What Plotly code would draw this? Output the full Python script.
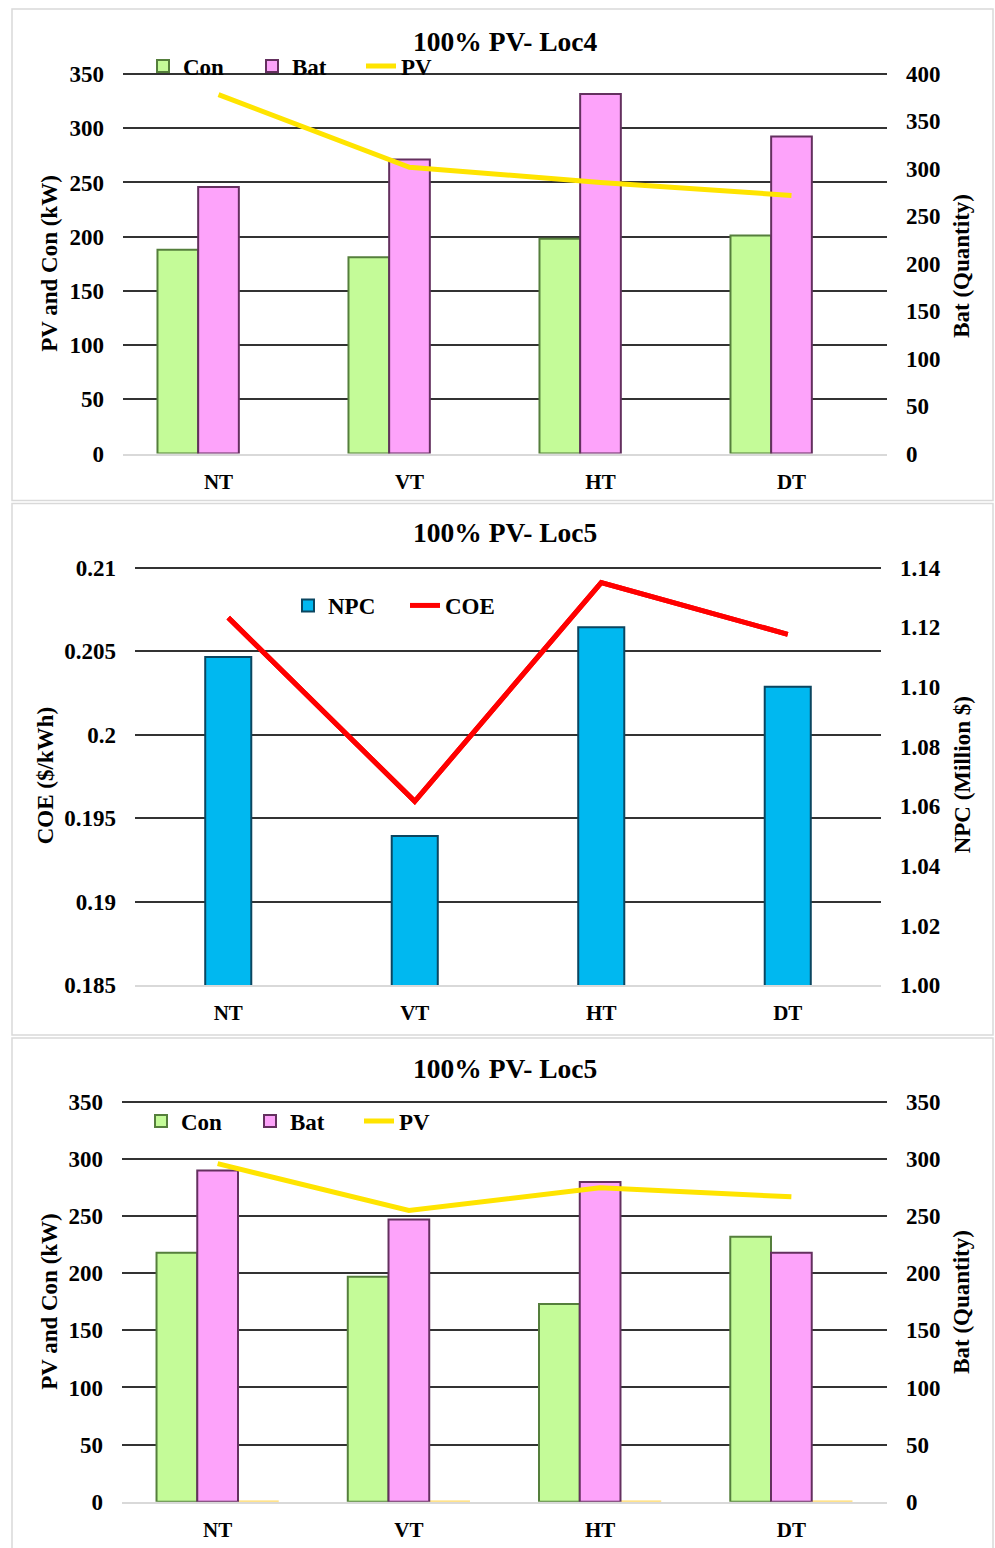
import plotly.graph_objects as go

W, H = 995, 1548

categories = ["NT", "VT", "HT", "DT"]

# 100% PV - Loc4 sizing
con_loc4 = [188, 181, 198, 201]
bat_loc4 = [281, 310, 379, 334]
pv_loc4 = [331, 264, 250, 238]

# 100% PV - Loc5 economics
npc_loc5 = [1.110, 1.050, 1.120, 1.100]
coe_loc5 = [0.2070, 0.1960, 0.2091, 0.2060]

# 100% PV - Loc5 sizing
con_loc5 = [218, 197, 173, 232]
bat_loc5 = [290, 247, 280, 218]
pv_loc5 = [296, 255, 275, 267]
pv_bar_loc5 = [1, 1, 1, 1]

kw_ticks = [0, 50, 100, 150, 200, 250, 300, 350]
bat_ticks_loc4 = [0, 50, 100, 150, 200, 250, 300, 350, 400]
coe_ticks = [0.185, 0.19, 0.195, 0.2, 0.205, 0.21]
npc_ticks = [1.00, 1.02, 1.04, 1.06, 1.08, 1.10, 1.12, 1.14]

# vertical page offset / scale of the rendered page
Y_OFF, Y_SCALE = 7.97, 0.9867


def px_x(px):
    return px / W


def px_y(py):
    return 1 - ((py - Y_OFF) / Y_SCALE) / H


PAD = 2.5  # px of headroom so the top gridline is kept inside the plot area


def padded_range(ticks, bottom_px, top_px):
    lo, hi = ticks[0], ticks[-1]
    per_px = (hi - lo) / (bottom_px - top_px)
    return [lo, hi + PAD * per_px]


FONT = "Liberation Serif"
tick_font = dict(family=FONT, size=23, color="black", weight="bold")
cat_font = dict(family=FONT, size=21, color="black", weight="bold")
axis_title_font = dict(family=FONT, size=23, color="black", weight="bold")
title_font = dict(family=FONT, size=27.5, color="black", weight="bold")

GREEN = "#c4fb98"
GREEN_EDGE = "#557f3c"
PINK = "#fda3fa"
PINK_EDGE = "#64305f"
BLUE = "#00b8f0"
BLUE_EDGE = "#0b4660"
YELLOW = "#ffe400"
RED = "#ff0000"
GRID = "#333333"

bw = 0.213  # bar width in category units (three slots per category)

fig = go.Figure()

# ---------- panel 1: Loc4 sizing ----------
fig.add_trace(go.Bar(x=categories, y=con_loc4, name="Con", xaxis="x", yaxis="y",
                     width=bw, offset=-1.5 * bw,
                     marker=dict(color=GREEN, line=dict(color=GREEN_EDGE, width=2)),
                     legend="legend"))
fig.add_trace(go.Bar(x=categories, y=bat_loc4, name="Bat", xaxis="x", yaxis="y2",
                     width=bw, offset=-0.5 * bw,
                     marker=dict(color=PINK, line=dict(color=PINK_EDGE, width=2)),
                     legend="legend"))
fig.add_trace(go.Scatter(x=categories, y=pv_loc4, name="PV", mode="lines", xaxis="x", yaxis="y7",
                         line=dict(color=YELLOW, width=5), legend="legend"))

# ---------- panel 2: Loc5 economics ----------
fig.add_trace(go.Scatter(x=categories, y=coe_loc5, name="COE", mode="lines", xaxis="x2", yaxis="y3",
                         line=dict(color=RED, width=5), legend="legend2", showlegend=False))
fig.add_trace(go.Bar(x=categories, y=npc_loc5, name="NPC", xaxis="x2", yaxis="y4",
                     width=0.247,
                     marker=dict(color=BLUE, line=dict(color=BLUE_EDGE, width=2)),
                     legend="legend2"))
# COE line again on a transparent overlay so it sits above the bars and carries the legend entry
fig.add_trace(go.Scatter(x=categories, y=coe_loc5, name="COE", mode="lines", xaxis="x2", yaxis="y8",
                         line=dict(color=RED, width=5), legend="legend2"))

# ---------- panel 3: Loc5 sizing ----------
fig.add_trace(go.Bar(x=categories, y=con_loc5, name="Con", xaxis="x3", yaxis="y5",
                     width=bw, offset=-1.5 * bw,
                     marker=dict(color=GREEN, line=dict(color=GREEN_EDGE, width=2)),
                     legend="legend3"))
fig.add_trace(go.Bar(x=categories, y=bat_loc5, name="Bat", xaxis="x3", yaxis="y6",
                     width=bw, offset=-0.5 * bw,
                     marker=dict(color=PINK, line=dict(color=PINK_EDGE, width=2)),
                     legend="legend3"))
fig.add_trace(go.Bar(x=categories, y=pv_bar_loc5, name="PV", xaxis="x3", yaxis="y5",
                     width=bw, offset=0.5 * bw, showlegend=False,
                     marker=dict(color="#ffd966", line=dict(width=0))))
fig.add_trace(go.Scatter(x=categories, y=pv_loc5, name="PV", mode="lines", xaxis="x3", yaxis="y9",
                         line=dict(color=YELLOW, width=5), legend="legend3"))


def xaxis_cfg(x0, x1, anchor):
    return dict(domain=[px_x(x0), px_x(x1)], anchor=anchor, type="category",
                range=[-0.5, 3.5], showgrid=False, zeroline=False,
                showline=True, linecolor="#d9d9d9", linewidth=2,
                ticks="", tickfont=cat_font, ticklabelstandoff=8)


def left_cfg(bottom_px, top_px, anchor, ticks):
    return dict(domain=[px_y(bottom_px), px_y(top_px - PAD)], anchor=anchor,
                range=padded_range(ticks, bottom_px, top_px),
                tickvals=ticks, showgrid=True, gridcolor=GRID, gridwidth=1.6,
                zeroline=False, showline=False, ticks="", tickfont=tick_font,
                ticklabelstandoff=18)


def right_cfg(over, anchor, bottom_px, top_px, ticks, fmt=None):
    d = dict(overlaying=over, side="right", anchor=anchor,
             range=padded_range(ticks, bottom_px, top_px),
             tickvals=ticks, showgrid=False, zeroline=False, showline=False,
             ticks="", tickfont=tick_font, ticklabelstandoff=18)
    if fmt:
        d["tickformat"] = fmt
    return d


def hidden_cfg(over, anchor, bottom_px, top_px, ticks):
    return dict(overlaying=over, anchor=anchor, range=padded_range(ticks, bottom_px, top_px),
                visible=False, showgrid=False, zeroline=False)


def legend_cfg(x_px, y_px, entry_w):
    return dict(x=px_x(x_px), y=px_y(y_px), orientation="h", xanchor="left", yanchor="middle",
                font=dict(family=FONT, size=23, color="black", weight="bold"),
                bgcolor="rgba(0,0,0,0)", traceorder="normal",
                entrywidth=entry_w, entrywidthmode="pixels", itemclick=False)


fig.update_layout(
    width=W, height=H,
    margin=dict(l=0, r=0, t=0, b=0),
    paper_bgcolor="white", plot_bgcolor="rgba(0,0,0,0)",
    showlegend=True,
    barmode="overlay",
    xaxis=xaxis_cfg(123, 887, "y"),
    yaxis=left_cfg(453, 73, "x", kw_ticks),
    yaxis2=right_cfg("y", "x", 453, 73, bat_ticks_loc4),
    yaxis7=hidden_cfg("y", "x", 453, 73, kw_ticks),
    xaxis2=xaxis_cfg(135, 881, "y3"),
    yaxis3=left_cfg(985, 567, "x2", coe_ticks),
    yaxis4=right_cfg("y3", "x2", 985, 567, npc_ticks, ".2f"),
    yaxis8=hidden_cfg("y3", "x2", 985, 567, coe_ticks),
    xaxis3=xaxis_cfg(122, 887, "y5"),
    yaxis5=left_cfg(1502, 1102, "x3", kw_ticks),
    yaxis6=right_cfg("y5", "x3", 1502, 1102, kw_ticks),
    yaxis9=hidden_cfg("y5", "x3", 1502, 1102, kw_ticks),
    legend=legend_cfg(143, 65, 64),
    legend2=legend_cfg(288, 605, 72),
    legend3=legend_cfg(141, 1121, 64),
)

# panel frames
for top, bottom in [(8, 500), (503, 1035), (1038, 1580)]:
    fig.add_shape(type="rect", xref="paper", yref="paper", layer="below",
                  x0=px_x(12), x1=px_x(993), y0=px_y(bottom), y1=px_y(top),
                  line=dict(color="#d9d9d9", width=1.5), fillcolor="rgba(0,0,0,0)")

annotations = [
    ("100% PV- Loc4", 505, 40, 0, title_font),
    ("100% PV- Loc5", 505, 532, 0, title_font),
    ("100% PV- Loc5", 505, 1068, 0, title_font),
    ("PV and Con (kW)", 50, 263, -90, axis_title_font),
    ("Bat (Quantity)", 962, 265, -90, axis_title_font),
    ("COE ($/kWh)", 45, 776, -90, axis_title_font),
    ("NPC (Million $)", 962, 775, -90, axis_title_font),
    ("PV and Con (kW)", 50, 1302, -90, axis_title_font),
    ("Bat (Quantity)", 962, 1302, -90, axis_title_font),
]
for text, ax_px, ay_px, ang, fnt in annotations:
    fig.add_annotation(text=text, xref="paper", yref="paper", x=px_x(ax_px), y=px_y(ay_px),
                       xanchor="center", yanchor="middle", showarrow=False,
                       textangle=ang, font=fnt)

# pin the figure to the page's top-left corner
page_css = ("document.documentElement.style.margin='0';"
            "document.body.style.margin='0';document.body.style.padding='0';"
            "var gd=document.getElementById('{plot_id}');"
            "gd.style.position='absolute';gd.style.top='0';gd.style.left='0';")

fig.write_html("out.html", post_script=page_css)
